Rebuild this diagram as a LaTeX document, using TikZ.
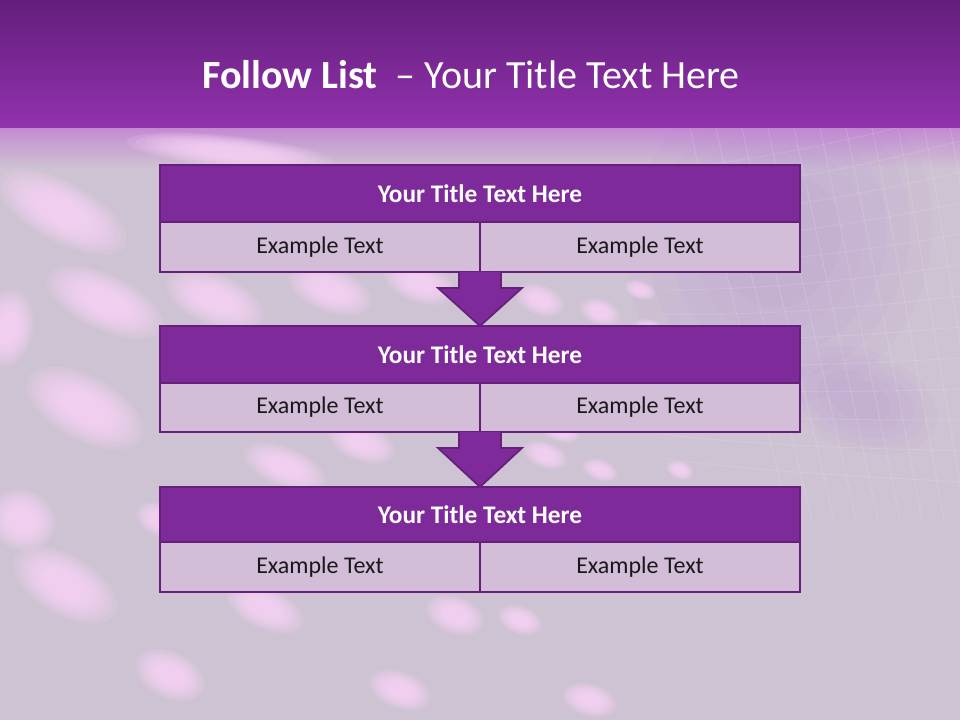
\documentclass[tikz,border=0pt]{standalone}
\usepackage{fontspec}
\setmainfont{Carlito}
\usetikzlibrary{calc}
\definecolor{bgbase}{HTML}{CEC3D2}
\definecolor{bartop}{HTML}{631E7B}
\definecolor{barbot}{HTML}{9232AE}
\definecolor{barfade}{HTML}{C38AD2}
\definecolor{boxpurple}{HTML}{7F2A9A}
\definecolor{boxedge}{HTML}{66207C}
\definecolor{cellfill}{HTML}{D3BED9}
\definecolor{blobpink}{HTML}{FAD4F8}
\definecolor{gridlilac}{HTML}{B384DA}
\tikzset{
  titlebox/.style={draw=boxedge, line width=1.8pt, fill=boxpurple, text=white, outer sep=0pt,
    font=\fontsize{19}{21}\selectfont\bfseries, minimum width=480pt, inner sep=0pt, anchor=north west},
  cellbox/.style={draw=boxedge, line width=1.8pt, fill=cellfill, text=black!90, outer sep=0pt,
    font=\fontsize{18}{20}\selectfont, minimum width=240pt, inner sep=0pt, anchor=north west},
  downarrow/.style={draw=boxedge, line width=1.3pt, fill=boxpurple, line join=miter},
  blobstyle/.style={fill=blobpink, opacity=0.16},
  glowstyle/.style={fill=gridlilac, opacity=0.06},
}
\begin{document}
\begin{tikzpicture}[x=0.75pt, y=-0.75pt]
\useasboundingbox (0,0) rectangle (960,720);
% background
\fill[bgbase] (0,0) rectangle (960,720);
\shade[top color=barfade, bottom color=bgbase] (0,128) rectangle (960,168);
% disco ball (upper right), faint
\foreach \s in {1.0,0.85,0.7,0.55,0.4} {
  \fill[glowstyle] (780,240) ellipse [x radius=\s*150, y radius=\s*170, rotate=-20];
  \fill[glowstyle] (860,400) ellipse [x radius=\s*80, y radius=\s*50, rotate=-20];
}
\begin{scope}
  \clip (660,128) rectangle (960,520);
  \foreach \i in {0,...,11} {
    \draw[white, opacity=0.14, line width=0.7pt] (690+\i*26,128) .. controls (705+\i*26,200) and (740+\i*24,320) .. (790+\i*22,520);
  }
  \foreach \j in {0,...,12} {
    \draw[white, opacity=0.12, line width=0.7pt] (660,170+\j*24) .. controls (760,160+\j*26) and (860,140+\j*28) .. (960,110+\j*31);
  }
\end{scope}
% pink blobs (layered for a soft edge)
\foreach \bx/\by/\rx/\ry/\ang in {
  62/212/62/26/-28, 105/302/55/24/-25, 215/300/45/22/-22, 330/290/38/19/-20,
  420/283/32/17/-18, 8/328/22/34/-10, 85/408/56/28/-28, 22/520/30/26/-25,
  65/585/50/26/-30, 170/675/32/20/-25, 285/467/38/17/-22, 265/608/36/18/-25,
  362/443/30/16/-20, 455/615/26/16/-20, 400/690/28/16/-20, 545/455/20/11/-20,
  590/700/24/14/-15, 540/300/22/13/-20, 600/312/18/11/-20, 650/330/14/9/-20,
  560/430/18/10/-20, 600/470/16/9/-20, 520/620/20/12/-20, 160/520/22/14/-25,
  230/152/90/14/-6, 640/290/14/8/-20, 690/420/14/8/-20, 680/470/12/8/-20} {
  \foreach \s in {1.15,1.05,0.95,0.87,0.8,0.72,0.64,0.56,0.48,0.4} {
    \fill[blobstyle] (\bx,\by) ellipse [x radius=\s*\rx, y radius=\s*\ry, rotate=\ang];
  }
}
% title bar
\shade[top color=bartop, bottom color=barbot] (0,0) rectangle (960,128);
\node[text=white, font=\fontsize{30}{34}\selectfont] (maintitle) at (471,75) {\textbf{Follow List}\ \ – Your Title Text Here};

% box 1
\node[titlebox, minimum height=42.75pt] (t1) at (160,165) {Your Title Text Here};
\node[cellbox, minimum height=37.5pt] (l1) at (t1.south west) {Example Text};
\node[cellbox, minimum height=37.5pt] (r1) at (l1.north east) {Example Text};
% box 2
\node[titlebox, minimum height=42.75pt] (t2) at (160,326) {Your Title Text Here};
\node[cellbox, minimum height=36.75pt] (l2) at (t2.south west) {Example Text};
\node[cellbox, minimum height=36.75pt] (r2) at (l2.north east) {Example Text};
% box 3
\node[titlebox, minimum height=41.25pt] (t3) at (160,487) {Your Title Text Here};
\node[cellbox, minimum height=37.5pt] (l3) at (t3.south west) {Example Text};
\node[cellbox, minimum height=37.5pt] (r3) at (l3.north east) {Example Text};

% arrows
\draw[downarrow] ($(l1.south east)+(-21,0)$) -- ($(l1.south east)+(-21,16)$) -- ($(l1.south east)+(-42,16)$)
  -- (t2.north) -- ($(l1.south east)+(42,16)$) -- ($(l1.south east)+(21,16)$) -- ($(l1.south east)+(21,0)$);
\draw[downarrow] ($(l2.south east)+(-21,0)$) -- ($(l2.south east)+(-21,16)$) -- ($(l2.south east)+(-42,16)$)
  -- (t3.north) -- ($(l2.south east)+(42,16)$) -- ($(l2.south east)+(21,16)$) -- ($(l2.south east)+(21,0)$);
\end{tikzpicture}
\end{document}
